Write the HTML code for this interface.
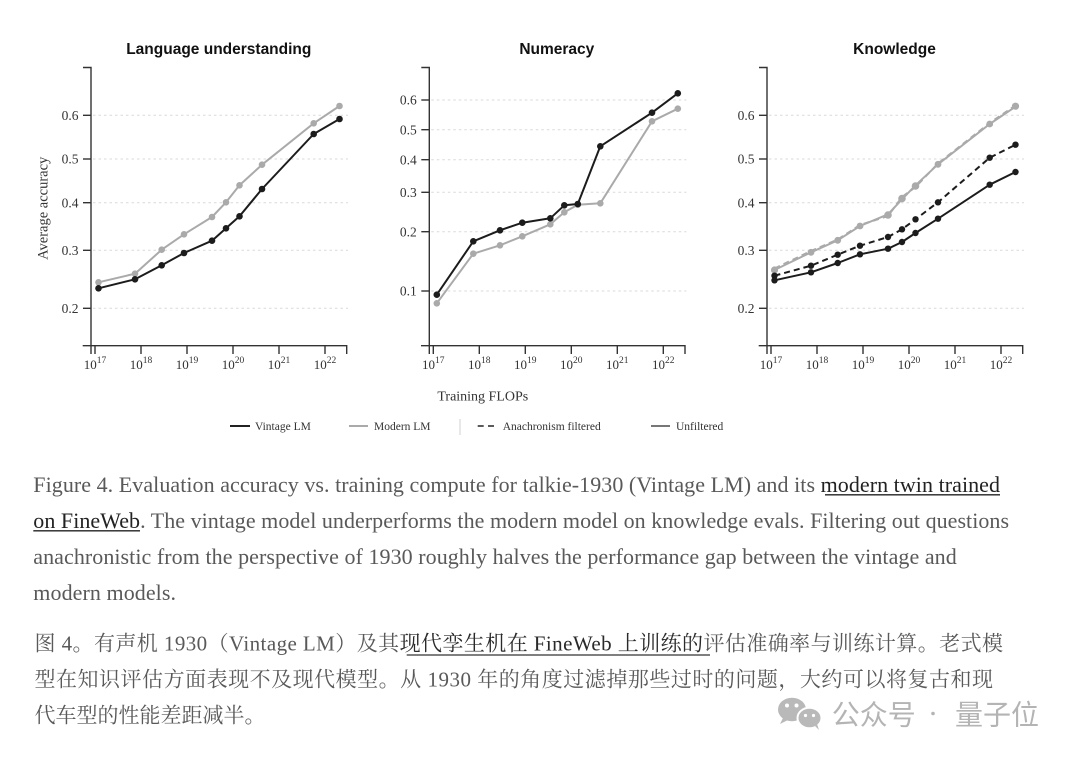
<!DOCTYPE html>
<html>
<head>
<meta charset="utf-8">
<style>
  html,body{margin:0;padding:0;background:#fff;}
  svg{display:block;}
  .tick{font-family:"Liberation Serif",serif;font-size:13.5px;fill:#333;}
  .xt{font-family:"Liberation Serif",serif;font-size:13px;fill:#333;}
  .title{font-family:"Liberation Sans",sans-serif;font-weight:bold;font-size:15.5px;fill:#111;}
  .leg{font-family:"Liberation Serif",serif;font-size:11.5px;fill:#333;}
  .cap{font-family:"Liberation Serif","Noto Serif CJK SC",serif;font-size:22px;fill:#595959;}
  .zh{font-family:"Liberation Serif","Noto Serif CJK SC",serif;font-size:21px;fill:#595959;}
  .wm{font-family:"Liberation Sans","Noto Sans CJK SC",sans-serif;font-size:28px;fill:#b4b4b4;}
</style>
</head>
<body>
<svg width="1080" height="758" viewBox="0 0 1080 758" xmlns="http://www.w3.org/2000/svg">
<rect width="1080" height="758" fill="#fff"/>

<!-- ============ PANEL 1 ============ -->
<g transform="translate(91,0)">
  <text class="title" x="127.8" y="54" text-anchor="middle">Language understanding</text>
  <g stroke="#d9d9d9" stroke-width="1" stroke-dasharray="2.5,3">
    <line x1="2" x2="257" y1="115.3" y2="115.3"/>
    <line x1="2" x2="257" y1="159" y2="159"/>
    <line x1="2" x2="257" y1="202.7" y2="202.7"/>
    <line x1="2" x2="257" y1="250.3" y2="250.3"/>
    <line x1="2" x2="257" y1="308.3" y2="308.3"/>
  </g>
  <g stroke="#333" stroke-width="1.4" fill="none">
    <path d="M-8,67.5 H0 V354"/>
    <path d="M-8.3,345.7 H255.7 V354"/>
    <line x1="-8" x2="0" y1="115.3" y2="115.3"/>
    <line x1="-8" x2="0" y1="159" y2="159"/>
    <line x1="-8" x2="0" y1="202.7" y2="202.7"/>
    <line x1="-8" x2="0" y1="250.3" y2="250.3"/>
    <line x1="-8" x2="0" y1="308.3" y2="308.3"/>
    <line x1="4" x2="4" y1="345.7" y2="354"/>
    <line x1="50" x2="50" y1="345.7" y2="354"/>
    <line x1="96" x2="96" y1="345.7" y2="354"/>
    <line x1="142" x2="142" y1="345.7" y2="354"/>
    <line x1="188" x2="188" y1="345.7" y2="354"/>
    <line x1="234" x2="234" y1="345.7" y2="354"/>
  </g>
  <g text-anchor="end">
    <text class="tick" x="-12.5" y="120">0.6</text>
    <text class="tick" x="-12.5" y="163.7">0.5</text>
    <text class="tick" x="-12.5" y="207.4">0.4</text>
    <text class="tick" x="-12.5" y="255">0.3</text>
    <text class="tick" x="-12.5" y="313">0.2</text>
  </g>
  <g text-anchor="middle">
    <text class="xt" x="4" y="369">10<tspan dy="-6" font-size="9.5">17</tspan></text>
    <text class="xt" x="50" y="369">10<tspan dy="-6" font-size="9.5">18</tspan></text>
    <text class="xt" x="96" y="369">10<tspan dy="-6" font-size="9.5">19</tspan></text>
    <text class="xt" x="142" y="369">10<tspan dy="-6" font-size="9.5">20</tspan></text>
    <text class="xt" x="188" y="369">10<tspan dy="-6" font-size="9.5">21</tspan></text>
    <text class="xt" x="234" y="369">10<tspan dy="-6" font-size="9.5">22</tspan></text>
  </g>
  <!-- Modern -->
  <polyline fill="none" stroke="#aaaaaa" stroke-width="2" stroke-linejoin="round"
    points="7.5,282.3 44,273.7 70.7,249.7 93,234.3 121,217 135,202.3 148.5,185.3 171,164.7 222.7,123.3 248.5,106"/>
  <g fill="#aaaaaa">
    <circle cx="7.5" cy="282.3" r="3.3"/><circle cx="44" cy="273.7" r="3.3"/><circle cx="70.7" cy="249.7" r="3.3"/>
    <circle cx="93" cy="234.3" r="3.3"/><circle cx="121" cy="217" r="3.3"/><circle cx="135" cy="202.3" r="3.3"/>
    <circle cx="148.5" cy="185.3" r="3.3"/><circle cx="171" cy="164.7" r="3.3"/><circle cx="222.7" cy="123.3" r="3.3"/>
    <circle cx="248.5" cy="106" r="3.3"/>
  </g>
  <!-- Vintage -->
  <polyline fill="none" stroke="#1c1c1c" stroke-width="2" stroke-linejoin="round"
    points="7.5,288.3 44,279.3 70.7,265.3 93,253 121,240.7 135,228.3 148.5,216.3 171,189 222.7,134 248.5,119"/>
  <g fill="#1c1c1c">
    <circle cx="7.5" cy="288.3" r="3.3"/><circle cx="44" cy="279.3" r="3.3"/><circle cx="70.7" cy="265.3" r="3.3"/>
    <circle cx="93" cy="253" r="3.3"/><circle cx="121" cy="240.7" r="3.3"/><circle cx="135" cy="228.3" r="3.3"/>
    <circle cx="148.5" cy="216.3" r="3.3"/><circle cx="171" cy="189" r="3.3"/><circle cx="222.7" cy="134" r="3.3"/>
    <circle cx="248.5" cy="119" r="3.3"/>
  </g>
</g>
<text transform="translate(47.5,208.3) rotate(-90)" text-anchor="middle" font-family="Liberation Serif, serif" font-size="14.5" fill="#333">Average accuracy</text>

<!-- ============ PANEL 2 ============ -->
<g transform="translate(429.3,0)">
  <text class="title" x="127.5" y="54" text-anchor="middle">Numeracy</text>
  <g stroke="#d9d9d9" stroke-width="1" stroke-dasharray="2.5,3">
    <line x1="2" x2="257" y1="100" y2="100"/>
    <line x1="2" x2="257" y1="129.7" y2="129.7"/>
    <line x1="2" x2="257" y1="159.7" y2="159.7"/>
    <line x1="2" x2="257" y1="192.3" y2="192.3"/>
    <line x1="2" x2="257" y1="231.7" y2="231.7"/>
    <line x1="2" x2="257" y1="291" y2="291"/>
  </g>
  <g stroke="#333" stroke-width="1.4" fill="none">
    <path d="M-8,67.5 H0 V354"/>
    <path d="M-8.3,345.7 H255.7 V354"/>
    <line x1="-8" x2="0" y1="100" y2="100"/>
    <line x1="-8" x2="0" y1="129.7" y2="129.7"/>
    <line x1="-8" x2="0" y1="159.7" y2="159.7"/>
    <line x1="-8" x2="0" y1="192.3" y2="192.3"/>
    <line x1="-8" x2="0" y1="231.7" y2="231.7"/>
    <line x1="-8" x2="0" y1="291" y2="291"/>
    <line x1="4" x2="4" y1="345.7" y2="354"/>
    <line x1="50" x2="50" y1="345.7" y2="354"/>
    <line x1="96" x2="96" y1="345.7" y2="354"/>
    <line x1="142" x2="142" y1="345.7" y2="354"/>
    <line x1="188" x2="188" y1="345.7" y2="354"/>
    <line x1="234" x2="234" y1="345.7" y2="354"/>
  </g>
  <g text-anchor="end">
    <text class="tick" x="-12.5" y="104.7">0.6</text>
    <text class="tick" x="-12.5" y="134.4">0.5</text>
    <text class="tick" x="-12.5" y="164.4">0.4</text>
    <text class="tick" x="-12.5" y="197">0.3</text>
    <text class="tick" x="-12.5" y="236.4">0.2</text>
    <text class="tick" x="-12.5" y="295.7">0.1</text>
  </g>
  <g text-anchor="middle">
    <text class="xt" x="4" y="369">10<tspan dy="-6" font-size="9.5">17</tspan></text>
    <text class="xt" x="50" y="369">10<tspan dy="-6" font-size="9.5">18</tspan></text>
    <text class="xt" x="96" y="369">10<tspan dy="-6" font-size="9.5">19</tspan></text>
    <text class="xt" x="142" y="369">10<tspan dy="-6" font-size="9.5">20</tspan></text>
    <text class="xt" x="188" y="369">10<tspan dy="-6" font-size="9.5">21</tspan></text>
    <text class="xt" x="234" y="369">10<tspan dy="-6" font-size="9.5">22</tspan></text>
  </g>
  <polyline fill="none" stroke="#aaaaaa" stroke-width="2" stroke-linejoin="round"
    points="7.5,303.3 44,253.7 70.7,245.3 93,236.3 121,224.3 135,212.3 148.5,204.7 171,203.3 222.7,121.3 248.5,108.7"/>
  <g fill="#aaaaaa">
    <circle cx="7.5" cy="303.3" r="3.3"/><circle cx="44" cy="253.7" r="3.3"/><circle cx="70.7" cy="245.3" r="3.3"/>
    <circle cx="93" cy="236.3" r="3.3"/><circle cx="121" cy="224.3" r="3.3"/><circle cx="135" cy="212.3" r="3.3"/>
    <circle cx="148.5" cy="204.7" r="3.3"/><circle cx="171" cy="203.3" r="3.3"/><circle cx="222.7" cy="121.3" r="3.3"/>
    <circle cx="248.5" cy="108.7" r="3.3"/>
  </g>
  <polyline fill="none" stroke="#1c1c1c" stroke-width="2" stroke-linejoin="round"
    points="7.5,294.7 44,241.3 70.7,230.3 93,222.7 121,218.3 135,205.3 148.5,204 171,146.3 222.7,112.7 248.5,93.3"/>
  <g fill="#1c1c1c">
    <circle cx="7.5" cy="294.7" r="3.3"/><circle cx="44" cy="241.3" r="3.3"/><circle cx="70.7" cy="230.3" r="3.3"/>
    <circle cx="93" cy="222.7" r="3.3"/><circle cx="121" cy="218.3" r="3.3"/><circle cx="135" cy="205.3" r="3.3"/>
    <circle cx="148.5" cy="204" r="3.3"/><circle cx="171" cy="146.3" r="3.3"/><circle cx="222.7" cy="112.7" r="3.3"/>
    <circle cx="248.5" cy="93.3" r="3.3"/>
  </g>
</g>

<!-- ============ PANEL 3 ============ -->
<g transform="translate(767,0)">
  <text class="title" x="127.5" y="54" text-anchor="middle">Knowledge</text>
  <g stroke="#d9d9d9" stroke-width="1" stroke-dasharray="2.5,3">
    <line x1="2" x2="257" y1="115.3" y2="115.3"/>
    <line x1="2" x2="257" y1="159" y2="159"/>
    <line x1="2" x2="257" y1="202.7" y2="202.7"/>
    <line x1="2" x2="257" y1="250.3" y2="250.3"/>
    <line x1="2" x2="257" y1="308.3" y2="308.3"/>
  </g>
  <g stroke="#333" stroke-width="1.4" fill="none">
    <path d="M-8,67.5 H0 V354"/>
    <path d="M-8.3,345.7 H255.7 V354"/>
    <line x1="-8" x2="0" y1="115.3" y2="115.3"/>
    <line x1="-8" x2="0" y1="159" y2="159"/>
    <line x1="-8" x2="0" y1="202.7" y2="202.7"/>
    <line x1="-8" x2="0" y1="250.3" y2="250.3"/>
    <line x1="-8" x2="0" y1="308.3" y2="308.3"/>
    <line x1="4" x2="4" y1="345.7" y2="354"/>
    <line x1="50" x2="50" y1="345.7" y2="354"/>
    <line x1="96" x2="96" y1="345.7" y2="354"/>
    <line x1="142" x2="142" y1="345.7" y2="354"/>
    <line x1="188" x2="188" y1="345.7" y2="354"/>
    <line x1="234" x2="234" y1="345.7" y2="354"/>
  </g>
  <g text-anchor="end">
    <text class="tick" x="-12.5" y="120">0.6</text>
    <text class="tick" x="-12.5" y="163.7">0.5</text>
    <text class="tick" x="-12.5" y="207.4">0.4</text>
    <text class="tick" x="-12.5" y="255">0.3</text>
    <text class="tick" x="-12.5" y="313">0.2</text>
  </g>
  <g text-anchor="middle">
    <text class="xt" x="4" y="369">10<tspan dy="-6" font-size="9.5">17</tspan></text>
    <text class="xt" x="50" y="369">10<tspan dy="-6" font-size="9.5">18</tspan></text>
    <text class="xt" x="96" y="369">10<tspan dy="-6" font-size="9.5">19</tspan></text>
    <text class="xt" x="142" y="369">10<tspan dy="-6" font-size="9.5">20</tspan></text>
    <text class="xt" x="188" y="369">10<tspan dy="-6" font-size="9.5">21</tspan></text>
    <text class="xt" x="234" y="369">10<tspan dy="-6" font-size="9.5">22</tspan></text>
  </g>
  <!-- Modern filtered (dashed grey) -->
  <polyline fill="none" stroke="#aaaaaa" stroke-width="2" stroke-dasharray="6,4" stroke-linejoin="round"
    points="7.5,268.5 44,251 70.7,239.5 93,225 121,216 135,197 148.5,187 171,163.5 222.7,123 248.5,105.5"/>
  <!-- Modern unfiltered (solid grey) -->
  <polyline fill="none" stroke="#aaaaaa" stroke-width="2" stroke-linejoin="round"
    points="7.5,270 44,252.3 70.7,240.3 93,226 121,214.3 135,199.3 148.5,185.3 171,164.3 222.7,124 248.5,106.7"/>
  <g fill="#aaaaaa">
    <circle cx="7.5" cy="270" r="3.6"/><circle cx="44" cy="252.3" r="3.4"/><circle cx="70.7" cy="240.3" r="3.4"/>
    <circle cx="93" cy="226" r="3.4"/><circle cx="121" cy="215" r="3.8"/><circle cx="135" cy="198.5" r="3.8"/>
    <circle cx="148.5" cy="186" r="3.8"/><circle cx="171" cy="164.3" r="3.4"/><circle cx="222.7" cy="124" r="3.4"/>
    <circle cx="248.5" cy="106.2" r="3.6"/>
  </g>
  <!-- Vintage filtered (dashed black) -->
  <polyline fill="none" stroke="#1c1c1c" stroke-width="2" stroke-dasharray="6,4" stroke-linejoin="round"
    points="7.5,275.7 44,265.7 70.7,254.7 93,245.7 121,237 135,229.3 148.5,219.3 171,202.3 222.7,157.7 248.5,144.7"/>
  <g fill="#1c1c1c">
    <circle cx="7.5" cy="275.7" r="3.2"/><circle cx="44" cy="265.7" r="3.2"/><circle cx="70.7" cy="254.7" r="3.2"/>
    <circle cx="93" cy="245.7" r="3.2"/><circle cx="121" cy="237" r="3.2"/><circle cx="135" cy="229.3" r="3.2"/>
    <circle cx="148.5" cy="219.3" r="3.2"/><circle cx="171" cy="202.3" r="3.2"/><circle cx="222.7" cy="157.7" r="3.2"/>
    <circle cx="248.5" cy="144.7" r="3.2"/>
  </g>
  <!-- Vintage unfiltered (solid black) -->
  <polyline fill="none" stroke="#1c1c1c" stroke-width="2" stroke-linejoin="round"
    points="7.5,280.3 44,272.3 70.7,263 93,254.3 121,248.7 135,242 148.5,233 171,218.7 222.7,184.7 248.5,172"/>
  <g fill="#1c1c1c">
    <circle cx="7.5" cy="280.3" r="3.2"/><circle cx="44" cy="272.3" r="3.2"/><circle cx="70.7" cy="263" r="3.2"/>
    <circle cx="93" cy="254.3" r="3.2"/><circle cx="121" cy="248.7" r="3.2"/><circle cx="135" cy="242" r="3.2"/>
    <circle cx="148.5" cy="233" r="3.2"/><circle cx="171" cy="218.7" r="3.2"/><circle cx="222.7" cy="184.7" r="3.2"/>
    <circle cx="248.5" cy="172" r="3.2"/>
  </g>
</g>

<!-- X axis title -->
<text x="482.8" y="400.5" text-anchor="middle" font-family="Liberation Serif, serif" font-size="14" fill="#333">Training FLOPs</text>

<!-- Legend -->
<line x1="230" x2="250" y1="426" y2="426" stroke="#222" stroke-width="2"/>
<text class="leg" x="255" y="430">Vintage LM</text>
<line x1="349" x2="368" y1="426" y2="426" stroke="#aaaaaa" stroke-width="2"/>
<text class="leg" x="374" y="430">Modern LM</text>
<line x1="460" x2="460" y1="419" y2="435" stroke="#d0d0d0" stroke-width="1"/>
<line x1="477.7" x2="494" y1="426" y2="426" stroke="#444" stroke-width="1.8" stroke-dasharray="6,4.3"/>
<text class="leg" x="502.7" y="430">Anachronism filtered</text>
<line x1="651" x2="670" y1="426" y2="426" stroke="#777" stroke-width="2"/>
<text class="leg" x="676" y="430">Unfiltered</text>

<!-- English caption -->
<text class="cap" x="33.3" y="492" textLength="966.7" lengthAdjust="spacing">Figure 4. Evaluation accuracy vs. training compute for talkie-1930 (Vintage LM) and its <tspan fill="#222">modern twin trained</tspan></text>
<line x1="825" x2="1000" y1="494.8" y2="494.8" stroke="#222" stroke-width="1.3"/>
<text class="cap" x="33.3" y="528" textLength="975.7" lengthAdjust="spacing"><tspan fill="#222">on FineWeb</tspan>. The vintage model underperforms the modern model on knowledge evals. Filtering out questions</text>
<line x1="33.3" x2="140" y1="530.8" y2="530.8" stroke="#222" stroke-width="1.3"/>
<text class="cap" x="33.3" y="564" textLength="923.4" lengthAdjust="spacing">anachronistic from the perspective of 1930 roughly halves the performance gap between the vintage and</text>
<text class="cap" x="33.3" y="600" textLength="142.7" lengthAdjust="spacing">modern models.</text>

<!-- Chinese caption -->
<text class="zh" x="34.5" y="650.5" textLength="968.5" lengthAdjust="spacing">图 4。有声机 1930（Vintage LM）及其<tspan fill="#2a2a2a">现代孪生机在 FineWeb 上训练的</tspan>评估准确率与训练计算。老式模</text>
<line x1="406.7" x2="710" y1="655" y2="655" stroke="#333" stroke-width="1.3"/>
<text class="zh" x="34.5" y="686.5" textLength="958.5" lengthAdjust="spacing">型在知识评估方面表现不及现代模型。从 1930 年的角度过滤掉那些过时的问题，大约可以将复古和现</text>
<text class="zh" x="34.5" y="722.3">代车型的性能差距减半。</text>

<!-- Watermark -->
<g>
  <ellipse cx="792" cy="709.5" rx="14" ry="11.8" fill="#b9b9b9"/>
  <path d="M783,718 L780,724 L788,720 Z" fill="#b9b9b9"/>
  <ellipse cx="809.5" cy="718" rx="12" ry="10.2" fill="#b9b9b9" stroke="#fff" stroke-width="2"/>
  <path d="M815,726 L819,730 L817,724 Z" fill="#b9b9b9"/>
  <circle cx="787" cy="705.5" r="2" fill="#fff"/>
  <circle cx="796.5" cy="705.5" r="2" fill="#fff"/>
  <circle cx="805.5" cy="715.5" r="1.6" fill="#fff"/>
  <circle cx="813.5" cy="715.5" r="1.6" fill="#fff"/>
</g>
<text class="wm" x="831.7" y="724.6">公众号</text>
<circle cx="933" cy="713.5" r="1.8" fill="#b4b4b4"/>
<text class="wm" x="955" y="724.6">量子位</text>
</svg>
</body>
</html>
